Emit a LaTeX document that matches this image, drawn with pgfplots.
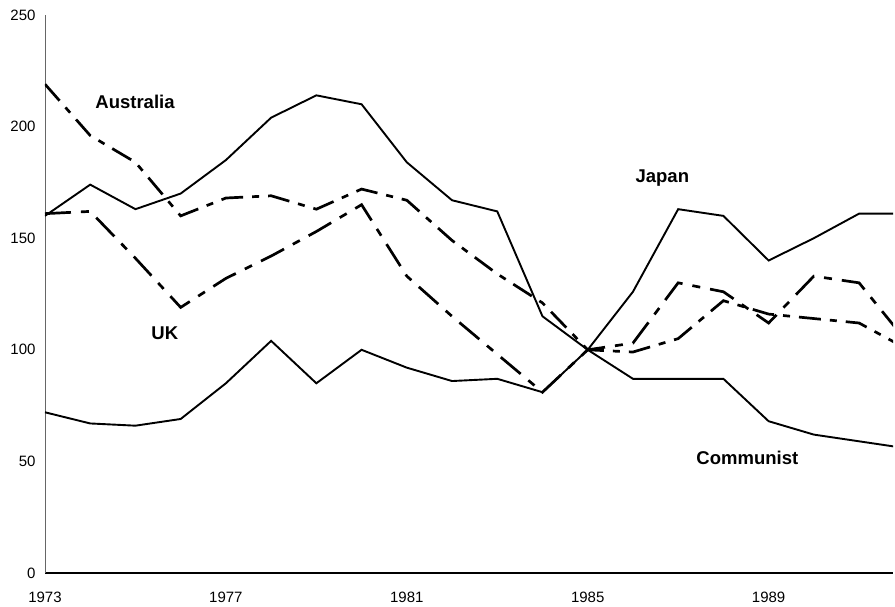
\documentclass[border=0pt]{standalone}
\usepackage{fontspec}
\setmainfont{Liberation Sans}
\usepackage{pgfplots}
\pgfplotsset{compat=1.18}
\begin{document}
\begin{tikzpicture}
\useasboundingbox (-45pt,-34pt) rectangle (850pt,573pt);
\begin{axis}[
  at={(0,0)}, anchor=south west,
  scale only axis, width=848pt, height=558pt,
  xmin=1973, xmax=1991.75, ymin=0, ymax=250,
  axis x line=bottom, axis y line=left,
  x axis line style={black, line width=1.4pt, -},
  y axis line style={black!60, line width=0.6pt, -},
  xtick={1973,1977,1981,1985,1989},
  ytick={0,50,100,150,200,250},
  major tick length=0pt,
  /pgf/number format/1000 sep={},
  /pgf/number format/assume math mode=true,
  tick label style={font=\fontsize{15}{17}\selectfont},
  yticklabel style={xshift=-6pt},
  xticklabel style={yshift=-15pt},
  clip=true,
]
\addplot[black, line width=1.9pt] coordinates {
(1973,160)(1974,174)(1975,163)(1976,170)(1977,185)(1978,204)(1979,214)(1980,210)(1981,184)(1982,167)(1983,162)(1984,115)(1985,100)(1986,126)(1987,163)(1988,160)(1989,140)(1990,150)(1991,161)(1992,161)};
\addplot[black, line width=1.9pt] coordinates {
(1973,72)(1974,67)(1975,66)(1976,69)(1977,85)(1978,104)(1979,85)(1980,100)(1981,92)(1982,86)(1983,87)(1984,81)(1985,100)(1986,87)(1987,87)(1988,87)(1989,68)(1990,62)(1991,59)(1992,56)};
\addplot[black, line width=2.7pt, dash pattern=on 22pt off 9pt on 7pt off 9pt] coordinates {
(1973,219)(1974,196)(1975,184)(1976,160)(1977,168)(1978,169)(1979,163)(1980,172)(1981,167)(1982,149)(1983,134)(1984,121)(1985,100)(1986,99)(1987,105)(1988,122)(1989,116)(1990,114)(1991,112)(1992,101)};
\addplot[black, line width=2.7pt, dash pattern=on 26pt off 10pt on 8pt off 10pt] coordinates {
(1973,161)(1974,162)(1975,141)(1976,119)(1977,132)(1978,142)(1979,153)(1980,165)(1981,133)(1982,115)(1983,98)(1984,81)(1985,100)(1986,103)(1987,130)(1988,126)(1989,112)(1990,133)(1991,130)(1992,105)};
\node[font=\bfseries\fontsize{18.5}{20}\selectfont] at (axis cs:1974.99,211) {Australia};
\node[font=\bfseries\fontsize{18.5}{20}\selectfont] at (axis cs:1986.65,177) {Japan};
\node[font=\bfseries\fontsize{18.5}{20}\selectfont] at (axis cs:1975.65,107.5) {UK};
\node[font=\bfseries\fontsize{18.5}{20}\selectfont] at (axis cs:1988.53,51.5) {Communist};
\end{axis}
\end{tikzpicture}
\end{document}
